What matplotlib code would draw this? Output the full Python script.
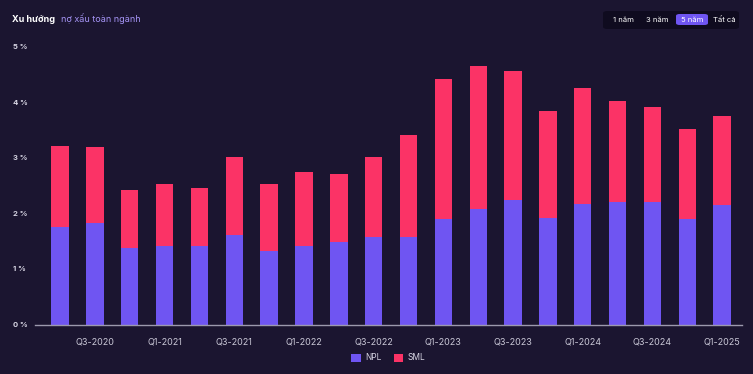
#!/usr/bin/env python3

import matplotlib.pyplot as plt
import matplotlib.transforms as mtransforms
from matplotlib.patches import FancyBboxPatch
import numpy as np

quarters = ['Q2-2020', 'Q3-2020', 'Q4-2020',
            'Q1-2021', 'Q2-2021', 'Q3-2021', 'Q4-2021',
            'Q1-2022', 'Q2-2022', 'Q3-2022', 'Q4-2022',
            'Q1-2023', 'Q2-2023', 'Q3-2023', 'Q4-2023',
            'Q1-2024', 'Q2-2024', 'Q3-2024', 'Q4-2024',
            'Q1-2025']
npl = [1.76, 1.84, 1.39, 1.42, 1.42, 1.61, 1.33, 1.42, 1.49, 1.59,
       1.59, 1.91, 2.09, 2.24, 1.92, 2.17, 2.21, 2.21, 1.91, 2.15]
total = [3.22, 3.21, 2.43, 2.53, 2.47, 3.03, 2.54, 2.75, 2.71, 3.03,
         3.42, 4.43, 4.66, 4.57, 3.84, 4.27, 4.03, 3.92, 3.53, 3.76]
sml = [t - n for t, n in zip(total, npl)]
yticks = [0, 1, 2, 3, 4, 5]
periods = ['1 năm', '3 năm', '5 năm', 'Tất cả']

BG = '#1b1530'
NPL_C = '#6f55f2'
SML_C = '#fb3366'

plt.rcParams['font.family'] = ['Inter', 'DejaVu Sans']

W, H = 753, 374
fig = plt.figure(figsize=(W / 100, H / 100), dpi=100, facecolor=BG)
ax = fig.add_axes([35 / W, (H - 325) / H, (742 - 35) / W, (325 - 47) / H])
ax.set_facecolor(BG)

x = np.arange(len(quarters))
ax.bar(x, npl, width=0.5, color=NPL_C, label='NPL', zorder=2)
ax.bar(x, sml, width=0.5, bottom=npl, color=SML_C, label='SML', zorder=2)

ax.set_xlim(-0.72, 19.57)
ax.set_ylim(0, 5)
ax.set_xticks(x[1::2])
ax.set_xticklabels(quarters[1::2], color='#c9c7d6', fontsize=6.5)
ax.set_yticks(yticks)
ax.set_yticklabels([])
ax.tick_params(length=0, pad=9)
for s in ('top', 'right', 'left'):
    ax.spines[s].set_visible(False)
ax.spines['bottom'].set_color('#9c99ad')
ax.spines['bottom'].set_linewidth(1)

# y labels sit left-aligned near the figure edge
ytrans = mtransforms.blended_transform_factory(fig.transFigure, ax.transData)
for v in yticks:
    fig.text(13 / W, v, f'{v} %', transform=ytrans, color='#d8d6e4',
             fontsize=5.5, fontweight='bold', ha='left', va='center')

leg = ax.legend(loc='center', bbox_to_anchor=(0.5, (H - 358 - 49) / (325 - 47)),
                ncol=2, frameon=False, fontsize=6, handlelength=1.1,
                handleheight=1.1, columnspacing=1.4, handletextpad=0.6)
for t in leg.get_texts():
    t.set_color('#d8d6e4')

t1 = fig.text(12 / W, 1 - 19 / H, 'Xu hướng', color='white', fontsize=6.5,
              fontweight='bold', va='center')
ax.annotate('nợ xấu toàn ngành', xy=(1, 0.5), xycoords=t1,
            xytext=(4, 0), textcoords='offset points', color='#a594f5',
            fontsize=6.5, va='center', annotation_clip=False)

# period selector
fig.patches.append(FancyBboxPatch((603 / W, 1 - 29 / H), 136 / W, 18 / H,
                                  boxstyle='round,pad=0,rounding_size=0.006',
                                  transform=fig.transFigure, facecolor='#0f0b1f',
                                  edgecolor='none'))
fig.patches.append(FancyBboxPatch((676 / W, 1 - 25 / H), 32 / W, 11 / H,
                                  boxstyle='round,pad=0,rounding_size=0.005',
                                  transform=fig.transFigure, facecolor=NPL_C,
                                  edgecolor='none'))
for px, p in zip([623, 657, 692, 724], periods):
    fig.text(px / W, 1 - 20 / H, p, color='white', fontsize=5.5,
             ha='center', va='center')

fig.savefig('out.png', dpi=100, facecolor=BG)
